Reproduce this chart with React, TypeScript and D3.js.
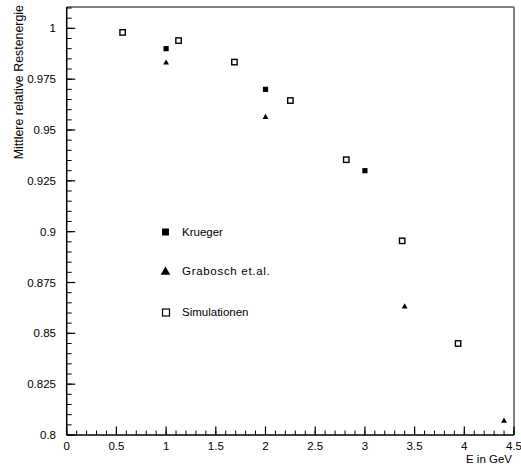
import React from "react";
import * as d3 from "d3";

const simX = [0.5625, 1.125, 1.6875, 2.25, 2.8125, 3.375, 3.9375];
const simY = [0.998, 0.994, 0.9834, 0.9645, 0.9354, 0.8955, 0.845];
const kruegerX = [1, 2, 3];
const kruegerY = [0.99, 0.97, 0.93];
const graboschX = [1, 2, 3.4, 4.4];
const graboschY = [0.983, 0.9563, 0.8631, 0.8069];
const xTicks = [0, 0.5, 1, 1.5, 2, 2.5, 3, 3.5, 4, 4.5];
const xTickLabels = ["0", "0.5", "1", "1.5", "2", "2.5", "3", "3.5", "4", "4.5"];
const yTicks = [0.8, 0.825, 0.85, 0.875, 0.9, 0.925, 0.95, 0.975, 1];
const yTickLabels = ["0.8", "0.825", "0.85", "0.875", "0.9", "0.925", "0.95", "0.975", "1"];
const legendLabels = ["Krueger", "Grabosch et.al.", "Simulationen"];

const W = 521, H = 466;
const L = 66.7, R = 514, T = 7, B = 435;
const FONT = "Liberation Sans, Arial, sans-serif";

export default function App() {
  const x = d3.scaleLinear().domain([0, 4.5]).range([L, R]);
  const y = d3.scaleLinear().domain([0.8, 1.0105]).range([B, T]);
  const xMinor = d3.range(0, 4.5001, 0.1);
  const yMinor = d3.range(0.8, 1.0101, 0.005);
  const tri = d3.symbol().type(d3.symbolTriangle).size(15)() as string;

  return (
    <svg width={W} height={H} style={{ position: "absolute", left: 0, top: 0, background: "#fff" }}>
      {/* frame top/right */}
      <line x1={L} x2={R} y1={T} y2={T} stroke="#808080" strokeWidth={2} />
      <line x1={R} x2={R} y1={T} y2={B} stroke="#808080" strokeWidth={2} />
      {/* axes */}
      <line x1={L} x2={L} y1={T} y2={B} stroke="#000" strokeWidth={1.5} />
      <line x1={L} x2={R} y1={B} y2={B} stroke="#000" strokeWidth={1.5} />
      {yMinor.map((v, i) => (
        <line key={"ym" + i} x1={L} x2={L + 5} y1={y(v)} y2={y(v)} stroke="#000" strokeWidth={1} />
      ))}
      {yTicks.map((v, i) => (
        <g key={"yt" + i}>
          <line x1={L} x2={L + 8.5} y1={y(v)} y2={y(v)} stroke="#000" strokeWidth={1.2} />
          <text x={56} y={y(v)} dy="0.35em" textAnchor="end" fontFamily={FONT} fontSize={11.5}>
            {yTickLabels[i]}
          </text>
        </g>
      ))}
      {xMinor.map((v, i) => (
        <line key={"xm" + i} x1={x(v)} x2={x(v)} y1={B} y2={B - 4.5} stroke="#000" strokeWidth={1} />
      ))}
      {xTicks.map((v, i) => (
        <g key={"xt" + i}>
          <line x1={x(v)} x2={x(v)} y1={B} y2={B - 8.5} stroke="#000" strokeWidth={1.2} />
          <text x={x(v)} y={450} textAnchor="middle" fontFamily={FONT} fontSize={11.5}>
            {xTickLabels[i]}
          </text>
        </g>
      ))}
      <text x={512} y={463} textAnchor="end" fontFamily={FONT} fontSize={11.5}>E in GeV</text>
      <text
        transform="translate(23,5) rotate(-90)"
        textAnchor="end"
        fontFamily={FONT}
        fontSize={12.4}
      >
        Mittlere relative Restenergie
      </text>
      {/* data */}
      {simX.map((v, i) => (
        <rect key={"s" + i} x={x(v) - 2.7} y={y(simY[i]) - 2.7} width={5.4} height={5.4}
          fill="none" stroke="#000" strokeWidth={1.4} />
      ))}
      {kruegerX.map((v, i) => (
        <rect key={"k" + i} x={x(v) - 2.6} y={y(kruegerY[i]) - 2.6} width={5.2} height={5.2} fill="#000" />
      ))}
      {graboschX.map((v, i) => (
        <path key={"g" + i} d={tri} transform={`translate(${x(v)},${y(graboschY[i])})`} fill="#000" />
      ))}
      {/* legend */}
      <rect x={162} y={228.5} width={7} height={7} fill="#000" />
      <text x={182} y={232} dy="0.35em" fontFamily={FONT} fontSize={11.5}>{legendLabels[0]}</text>
      <path d={d3.symbol().type(d3.symbolTriangle).size(40)() as string} transform="translate(165.5,272)" fill="#000" />
      <text x={182} y={271} dy="0.35em" fontFamily={FONT} fontSize={11.5} letterSpacing={0.7}>{legendLabels[1]}</text>
      <rect x={162.5} y={309} width={7} height={7} fill="none" stroke="#000" strokeWidth={1.2} />
      <text x={182} y={312} dy="0.35em" fontFamily={FONT} fontSize={11.5}>{legendLabels[2]}</text>
    </svg>
  );
}
